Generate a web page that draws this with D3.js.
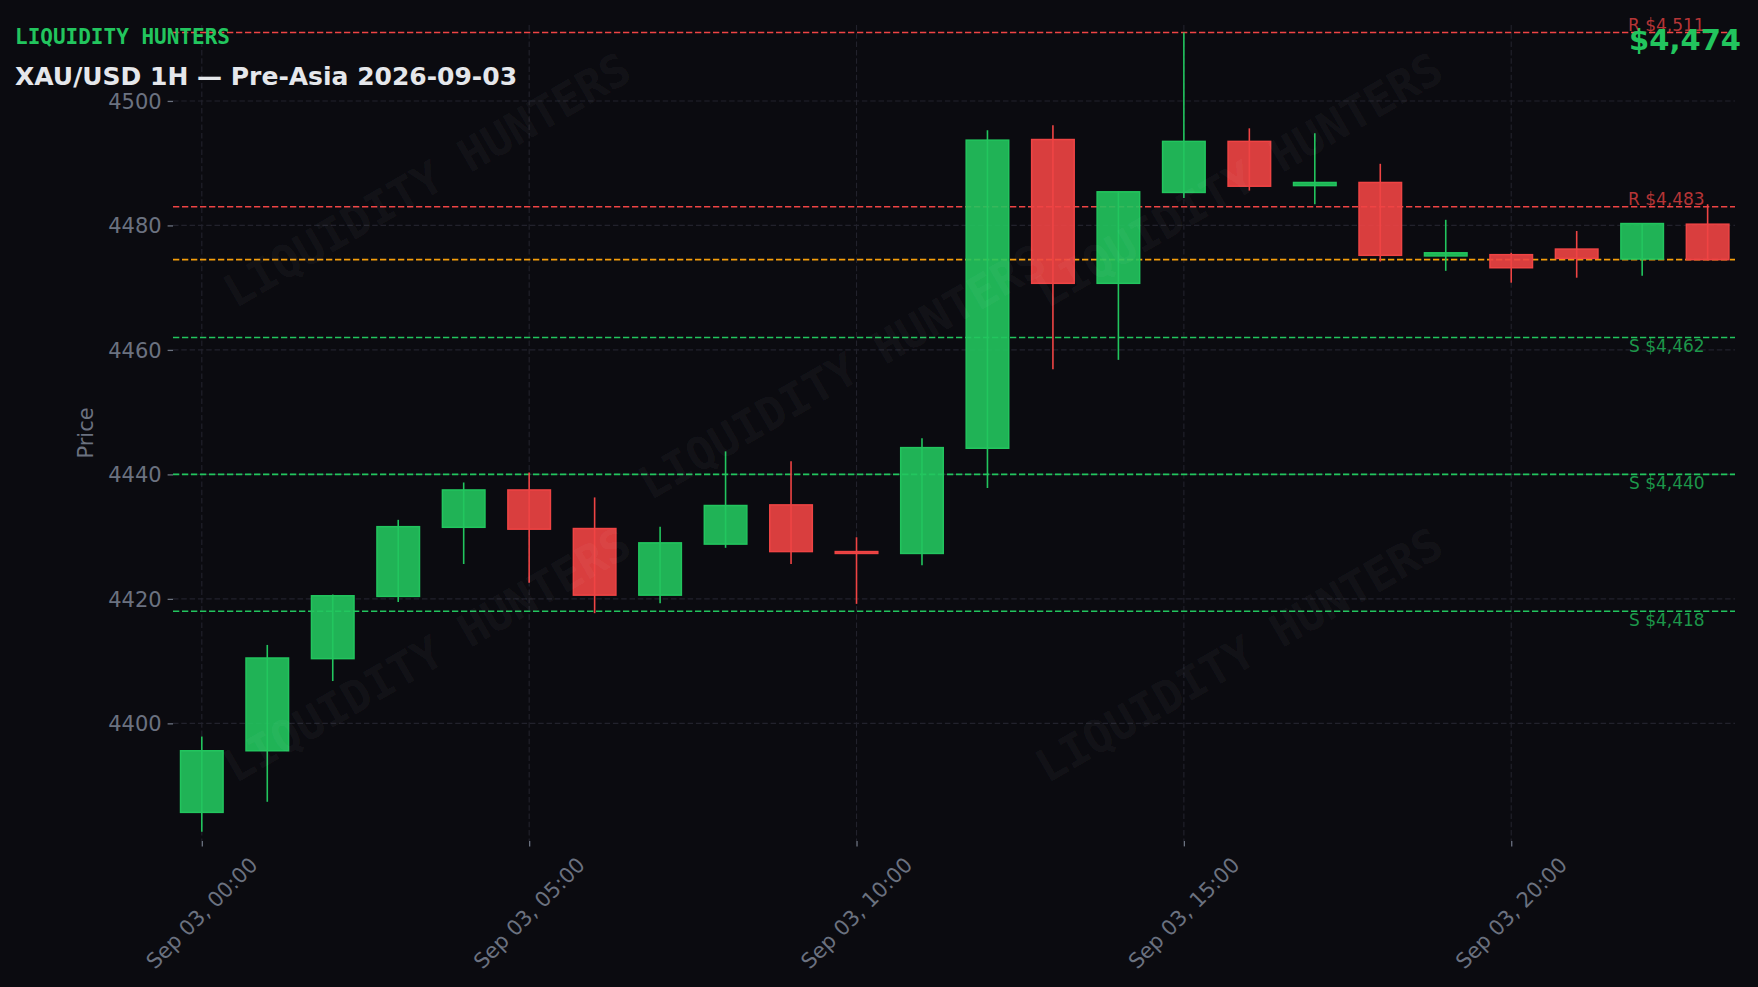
<!DOCTYPE html>
<html><head><meta charset="utf-8">
<script src="https://cdn.jsdelivr.net/npm/d3@7"></script>
<style>html,body{margin:0;padding:0;background:#0b0b10;overflow:hidden}</style>
</head><body><svg id="c" width="1758" height="987"></svg>
<script>
// ---- data ----
const hours  = [0,1,2,3,4,5,6,7,8,9,10,11,12,13,14,15,16,17,18,19,20,21,22,23];
const opens  = [4385.7,4395.6,4410.4,4420.4,4431.5,4437.5,4431.3,4420.6,4428.8,4435.1,4427.6,4427.3,4444.2,4493.8,4470.7,4485.3,4493.5,4486.4,4486.9,4475.1,4475.3,4476.2,4474.6,4480.2];
const highs  = [4397.9,4412.6,4420.7,4432.7,4438.7,4440.3,4436.3,4431.6,4443.7,4442.1,4429.9,4445.8,4495.3,4496.1,4485.5,4511.0,4495.6,4494.8,4489.9,4480.9,4475.6,4479.1,4480.4,4483.4];
const lows   = [4382.6,4387.4,4406.8,4419.5,4425.6,4422.6,4417.7,4419.3,4428.2,4425.6,4419.2,4425.4,4437.8,4456.9,4458.4,4484.4,4485.6,4483.4,4474.2,4472.7,4470.8,4471.6,4471.9,4474.4];
const closes = [4395.6,4410.5,4420.5,4431.6,4437.5,4431.2,4420.6,4429.0,4435.0,4427.6,4427.3,4444.3,4493.7,4470.7,4485.4,4493.5,4486.3,4486.9,4475.2,4475.6,4473.2,4474.7,4480.3,4474.5];
const resistance = [4511, 4483];
const support = [4462, 4440, 4418];
const lastPrice = 4474.5;
const yTicks = [4400, 4420, 4440, 4460, 4480, 4500];
const xTickHours = [0, 5, 10, 15, 20];
const brand = "LIQUIDITY HUNTERS";
const title = "XAU/USD 1H — Pre-Asia 2026-09-03";
const yLabel = "Price";
const dayStart = Date.UTC(2026, 8, 3, 0, 0);

// ---- layout ----
const W = 1758, H = 987;
const L = 173, R = 1735, T = 25, B = 841;
const BG = "#0b0b10", GREEN = "#22c55e", RED = "#ef4444", ORANGE = "#f59e0b";
const GRID = "#22222c", TICK = "#6b7280", WHITE = "#e5e7eb";
const HR = 3600e3;
const FS = 21;

const candles = hours.map((h, i) => ({t: new Date(dayStart + h*HR), o: opens[i], h: highs[i], l: lows[i], c: closes[i]}));

const x = d3.scaleUtc().domain([new Date(dayStart - 0.44*HR), new Date(dayStart + 23.418*HR)]).range([L, R]);
const y = d3.scaleLinear().domain([4381.1, 4512.2]).range([B, T]);

const svg = d3.select("#c");
svg.append("rect").attr("width", W).attr("height", H).attr("fill", BG);

// grid
const g = svg.append("g");
g.selectAll(".hg").data(yTicks).enter().append("line")
  .attr("x1", L).attr("x2", R).attr("y1", d => y(d)).attr("y2", d => y(d))
  .attr("stroke", GRID).attr("stroke-width", 1.1).attr("stroke-dasharray", "5.5,2.8");
const xTicks = xTickHours.map(h => new Date(dayStart + h*HR));
g.selectAll(".vg").data(xTicks).enter().append("line")
  .attr("x1", d => x(d)).attr("x2", d => x(d)).attr("y1", T).attr("y2", B)
  .attr("stroke", GRID).attr("stroke-width", 1.1).attr("stroke-dasharray", "5.5,2.8");

// axes
const yAxis = d3.axisLeft(y).tickValues(yTicks).tickSize(5.4).tickPadding(6).tickFormat(d3.format("d"));
const ya = svg.append("g").attr("transform", `translate(${L},0)`).call(yAxis);
ya.select(".domain").remove();
ya.selectAll("line").attr("stroke", TICK).attr("stroke-width", 1.3);
ya.selectAll("text").attr("fill", TICK).attr("font-family", "DejaVu Sans").attr("font-size", FS).attr("dy", "0.36em");

const xAxis = d3.axisBottom(x).tickValues(xTicks).tickSize(5.4).tickFormat("");
const xa = svg.append("g").attr("transform", `translate(0,${B})`).call(xAxis);
xa.select(".domain").remove();
xa.selectAll("line").attr("stroke", TICK).attr("stroke-width", 1.3);
const fmt = d3.utcFormat("%b %d, %H:%M");
svg.append("g").selectAll("text").data(xTicks).enter().append("text")
  .attr("transform", d => `translate(${x(d)},913) rotate(-45)`)
  .attr("text-anchor", "middle").attr("dy", "0.35em")
  .attr("fill", TICK).attr("font-family", "DejaVu Sans").attr("font-size", FS)
  .text(d => fmt(d));

svg.append("text").attr("transform", `translate(86,${(T+B)/2}) rotate(-90)`)
  .attr("text-anchor", "middle").attr("dy", "0.35em")
  .attr("fill", TICK).attr("font-family", "DejaVu Sans").attr("font-size", FS).text(yLabel);

// level lines
const lv = svg.append("g");
const levels = resistance.map(v => ({v, k: "R"})).concat(support.map(v => ({v, k: "S"})));
lv.selectAll("line").data(levels).enter().append("line")
  .attr("x1", L).attr("x2", R).attr("y1", d => y(d.v)).attr("y2", d => y(d.v))
  .attr("stroke", d => d.k === "R" ? RED : GREEN).attr("stroke-width", 1.6)
  .attr("stroke-dasharray", "6.3,2.7");
lv.append("line").attr("x1", L).attr("x2", R).attr("y1", y(lastPrice)).attr("y2", y(lastPrice))
  .attr("stroke", ORANGE).attr("stroke-width", 1.6).attr("stroke-dasharray", "6.3,2.7");

// candles
const cw = 0.65 * HR;
const cg = svg.append("g");
const col = d => d.c >= d.o ? GREEN : RED;
cg.selectAll(".wick").data(candles).enter().append("line")
  .attr("x1", d => x(d.t)).attr("x2", d => x(d.t))
  .attr("y1", d => y(d.h)).attr("y2", d => y(d.l))
  .attr("stroke", col).attr("stroke-width", 1.6);
cg.selectAll(".body").data(candles).enter().append("rect")
  .attr("x", d => x(new Date(+d.t - cw/2)))
  .attr("width", d => x(new Date(+d.t + cw/2)) - x(new Date(+d.t - cw/2)))
  .attr("y", d => y(Math.max(d.o, d.c)))
  .attr("height", d => Math.max(0.5, Math.abs(y(d.o) - y(d.c))))
  .attr("fill", col).attr("fill-opacity", 0.9)
  .attr("stroke", col).attr("stroke-width", 1.5);

// level labels
const lastT = candles[candles.length-1].t;
svg.append("g").selectAll("text").data(levels).enter().append("text")
  .attr("x", x(lastT) - 3)
  .attr("y", d => d.k === "R" ? y(d.v) - 1.5 : y(d.v) + 14.5)
  .attr("text-anchor", "end").attr("font-family", "DejaVu Sans").attr("font-size", 17)
  .attr("fill", d => d.k === "R" ? RED : GREEN).attr("fill-opacity", 0.75)
  .text(d => `${d.k} $${d3.format(",")(d.v)}`);

// watermarks
const wm = [[427,180],[842,372],[1239,180],[427,655],[1239,655]];
svg.append("g").selectAll("text").data(wm).enter().append("text")
  .attr("transform", d => `translate(${d[0]},${d[1]}) rotate(-30)`)
  .attr("text-anchor", "middle").attr("dy", "0.35em")
  .attr("font-family", "DejaVu Sans Mono").attr("font-weight", "bold").attr("font-size", 45)
  .attr("fill", "#ffffff").attr("fill-opacity", 0.055).text(brand);

// titles
svg.append("text").attr("x", 15).attr("y", 44).attr("font-family", "DejaVu Sans Mono").attr("font-weight", "bold")
  .attr("font-size", 21).attr("fill", GREEN).text(brand);
svg.append("text").attr("x", 15).attr("y", 85).attr("font-family", "DejaVu Sans").attr("font-weight", "bold")
  .attr("font-size", 25).attr("fill", WHITE).text(title);
svg.append("text").attr("x", 1741).attr("y", 50).attr("text-anchor", "end").attr("font-family", "DejaVu Sans").attr("font-weight", "bold")
  .attr("font-size", 29).attr("fill", GREEN).text("$" + d3.format(",")(Math.floor(lastPrice)));
</script></body></html>
